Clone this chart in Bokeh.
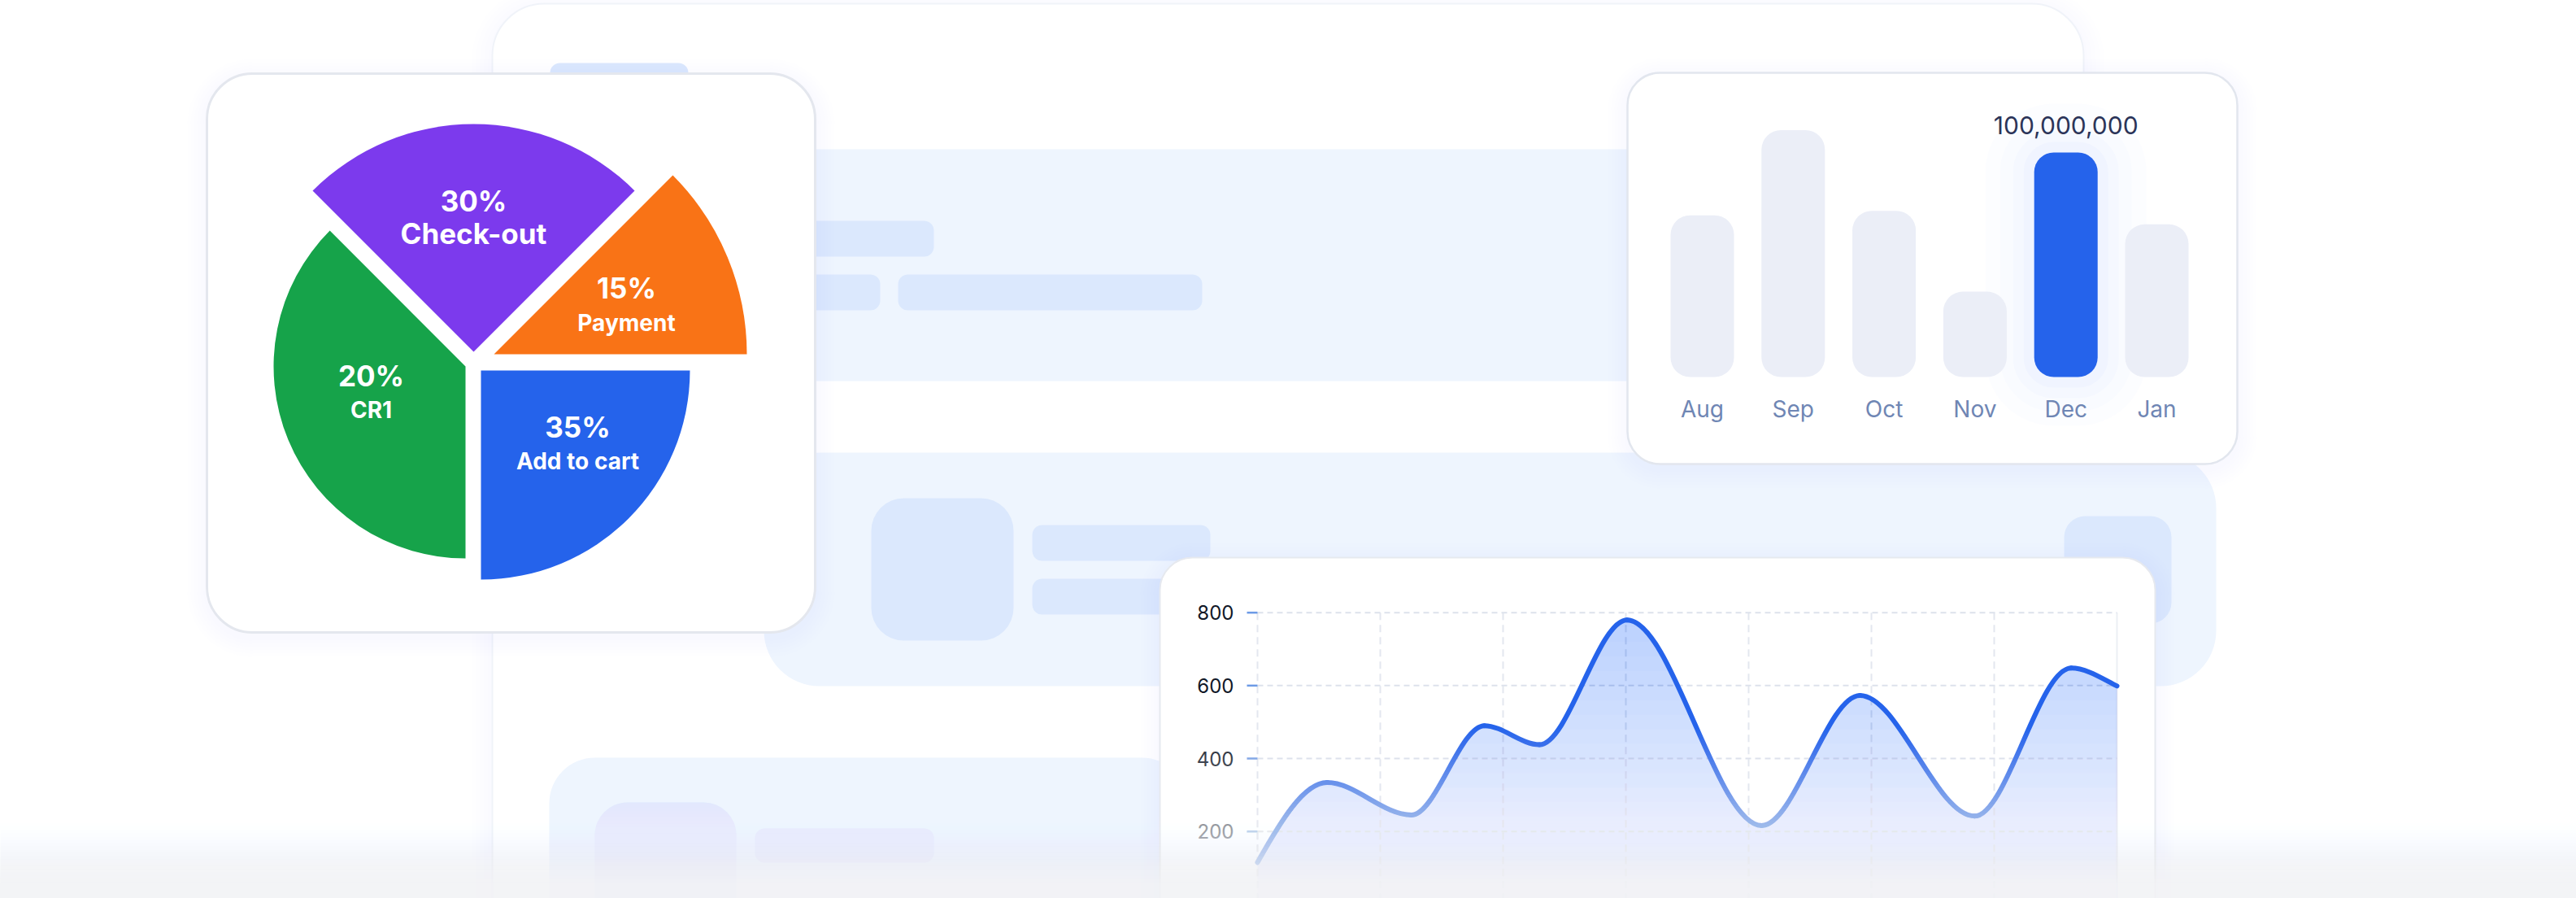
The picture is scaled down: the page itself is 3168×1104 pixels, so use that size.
import numpy as np
from bokeh.plotting import figure
from bokeh.models import Range1d
from bokeh.core.properties import value
from bokeh.embed import file_html
from bokeh.resources import INLINE

# ---------------- data ----------------
funnel_labels = ["Payment", "Check-out", "CR1", "Add to cart"]
funnel_shares = [15, 30, 20, 35]            # % shown on each slice
funnel_span_deg = [45, 90, 135, 90]         # angular extent of each slice as drawn
funnel_colors = ["#f97316", "#7c3aed", "#16a34a", "#2563eb"]

months = ["Aug", "Sep", "Oct", "Nov", "Dec", "Jan"]
revenue_m = [72, 110, 74, 38, 100, 68]      # millions
highlight_month = "Dec"

trend_x = [0.0, 0.567, 1.253, 1.848, 2.296, 3.01, 4.106, 4.907, 5.84, 6.627, 7.0]
trend_y = [115, 334, 245, 490, 438, 780, 216, 573, 242, 648, 599]
trend_ticks = [200, 400, 600, 800]
trend_slots = 7

# ---------------- canvas ----------------
W, H = 3168, 1104


def Y(v):
    return H - v


p = figure(width=W, height=H, x_range=Range1d(0, W), y_range=Range1d(0, H),
           output_backend="svg", toolbar_location=None, min_border=0,
           x_axis_location=None, y_axis_location=None)
p.grid.visible = False
p.outline_line_color = None
p.background_fill_color = "white"
p.border_fill_color = "white"

INTER = value("Inter")


def rrect(l, t, r, b, rad, fill, line=None, lw=1.0, alpha=1.0, line_alpha=1.0):
    p.quad(left=[l], right=[r], top=[Y(t)], bottom=[Y(b)], fill_color=fill, fill_alpha=alpha,
           line_color=line, line_width=lw, line_alpha=line_alpha, border_radius=rad)


def shadow(l, t, r, b, rad, color="#8aa4e8", steps=6, spread=4, a=0.012, dy=6):
    for i in range(steps, 0, -1):
        s = i * spread
        rrect(l - s, t - s + dy, r + s, b + s + dy, rad + s, color, None, 0, a)


# ---- background skeleton ----
shadow(605, 4, 2562, 1300, 64, steps=5, spread=5, a=0.007, dy=4)
rrect(605, 4, 2562, 1300, 64, "white", "#f0f3f9", 2)
rrect(676, 77, 846, 120, 12, "#dbe8fd")
rrect(960, 183, 2100, 468, 24, "#eef5fe")
rrect(960, 271, 1148, 315, 12, "#dbe8fd")
rrect(960, 337, 1082, 381, 12, "#dbe8fd")
rrect(1104, 337, 1478, 381, 12, "#dbe8fd")
rrect(939, 556, 2725, 843, 68, "#eef5fe")
rrect(1071, 612, 1246, 787, 40, "#dbe8fd")
rrect(1269, 645, 1488, 689, 12, "#dbe8fd")
rrect(1269, 711, 1460, 755, 12, "#dbe8fd")
rrect(2538, 634, 2670, 766, 26, "#dbe8fd")
rrect(675, 931, 1460, 1300, 56, "#eef5fe")
rrect(731, 986, 905, 1160, 40, "#dbe8fd")
rrect(928, 1018, 1148, 1060, 12, "#dbe8fd")

# ---- pie card ----
shadow(254, 90, 1002, 777, 56)
rrect(254, 90, 1002, 777, 56, "white", "#e4e7ee", 3)

apex = [(607, 435), (582, 432), (572, 450), (591, 455)]
radius = [311, 280, 236, 257]
starts = np.radians(np.cumsum([0] + funnel_span_deg[:-1]))
ends = starts + np.radians(funnel_span_deg)
p.wedge(x=[a[0] for a in apex], y=[Y(a[1]) for a in apex], radius=radius,
        start_angle=list(starts), end_angle=list(ends),
        fill_color=funnel_colors, line_color=None)

pct_pos = [(770, 353), (582, 246), (456, 461), (710, 524)]
name_pos = [(770, 396), (582, 286), (456, 503), (710, 566)]
name_size = ["28px", "35px", "28px", "28px"]
p.text(x=[q[0] for q in pct_pos], y=[Y(q[1]) for q in pct_pos],
       text=[f"{s}%" for s in funnel_shares], text_font=INTER, text_font_style="bold",
       text_font_size="35px", text_color="white", text_align="center", text_baseline="middle")
for (x, yy), lab, fs in zip(name_pos, funnel_labels, name_size):
    p.text(x=[x], y=[Y(yy)], text=[lab], text_font=INTER, text_font_style="bold",
           text_font_size=fs, text_color="white", text_align="center", text_baseline="middle")

# ---- bar card ----
shadow(2001, 89, 2751, 570, 40)
rrect(2001, 89, 2751, 570, 40, "white", "#e2e6ee", 2.5)

bars = p.subplot(x_source=Range1d(0, 5), y_source=Range1d(0, 100),
                 x_target=Range1d(2093, 2652), y_target=Range1d(Y(463), Y(187)))
idx = list(range(len(months)))
hi = months.index(highlight_month)
bar_w = 0.698
for lw, la in [(120, 0.012), (84, 0.016), (52, 0.02), (26, 0.024)]:
    bars.vbar(x=[hi], top=[revenue_m[hi]], bottom=[0], width=bar_w, fill_alpha=0,
              line_color="#2563eb", line_alpha=la, line_width=lw, border_radius=24)
bars.vbar(x=idx, top=revenue_m, bottom=0, width=bar_w, border_radius=24, line_color=None,
          fill_color=["#2563eb" if m == highlight_month else "#ebeef7" for m in months])
bars.text(x=idx, y=[0] * len(idx), text=months, y_offset=39, text_font=INTER,
          text_font_size="28px", text_color="#6f86b4", text_align="center", text_baseline="middle")
bars.text(x=[hi], y=[revenue_m[hi]], text=[f"{int(revenue_m[hi] * 1_000_000):,}"], y_offset=-34,
          text_font=INTER, text_font_size="30px", text_color="#2b3458",
          text_align="center", text_baseline="middle")

# ---- line card ----
shadow(1426, 685, 2650, 1300, 40)
rrect(1426, 685, 2650, 1300, 40, "white", "#e6e9ef", 2)

ln = p.subplot(x_source=Range1d(0, trend_slots), y_source=Range1d(200, 800),
               x_target=Range1d(1546, 2603), y_target=Range1d(Y(1021.7), Y(752.7)))
ln.segment(x0=list(range(trend_slots)), x1=list(range(trend_slots)), y0=[800] * trend_slots,
           y1=[-60] * trend_slots, line_color="#e3e7ef", line_width=2, line_dash="9 6")
ln.segment(x0=[trend_slots], x1=[trend_slots], y0=[800], y1=[-60], line_color="#eceff4", line_width=2)
ln.segment(x0=[0] * 4, x1=[trend_slots] * 4, y0=trend_ticks, y1=trend_ticks,
           line_color="#dde2ec", line_width=2, line_dash="7 5")
tick_len = 13 / 151
ln.segment(x0=[-tick_len] * 4, x1=[0] * 4, y0=trend_ticks, y1=trend_ticks,
           line_color="#6d9be6", line_width=2.5)
ln.text(x=[0] * 4, y=trend_ticks, text=[str(t) for t in trend_ticks], x_offset=-29,
        text_font=INTER, text_font_size="24px", text_color="#111827",
        text_align="right", text_baseline="middle")

# smooth curve: cubic Hermite with flat tangents at the turning points
tx = np.array(trend_x, float)
ty = np.array(trend_y, float)
slopes = np.zeros_like(ty)
slopes[0] = 600.0
slopes[-1] = -170.0
dx = np.diff(tx)
x0, x1 = tx[:-1], tx[1:]
y0, y1 = ty[:-1], ty[1:]
cx0 = x0 + dx / 3
cy0 = y0 + slopes[:-1] * dx / 3
cx1 = x1 - dx / 3
cy1 = y1 - slopes[1:] * dx / 3

tt = np.linspace(0, 1, 60)[:, None]
bx = ((1 - tt) ** 3 * x0 + 3 * (1 - tt) ** 2 * tt * cx0 + 3 * (1 - tt) * tt ** 2 * cx1 + tt ** 3 * x1).T.ravel()
by = ((1 - tt) ** 3 * y0 + 3 * (1 - tt) ** 2 * tt * cy0 + 3 * (1 - tt) * tt ** 2 * cy1 + tt ** 3 * y1).T.ravel()

# layered fill, denser towards the top
levels = np.linspace(0, 760, 20)
target = 0.05 + 0.20 * (levels / 780)
prev = 0.0
floor = -60
for lo, A in zip(levels, target):
    a = 1 - (1 - A) / (1 - prev)
    prev = A
    y2 = np.minimum(by, lo) if lo > 0 else np.full_like(by, floor)
    ln.varea(x=bx, y1=by, y2=y2, fill_color="#2563eb", fill_alpha=a)

ln.bezier(x0=x0, y0=y0, x1=x1, y1=y1, cx0=cx0, cy0=cy0, cx1=cx1, cy1=cy1,
          line_color="#2563eb", line_width=6, line_cap="round")

# ---- bottom fade ----
ys = np.arange(860, 1104, 4.0)
A = np.clip((ys - 890) * 0.0049, 0, 0.95)
prev = 0.0
for yk, Ak in zip(ys, A):
    if Ak <= prev:
        continue
    a = 1 - (1 - Ak) / (1 - prev)
    prev = Ak
    p.quad(left=[-10], right=[W + 10], top=[Y(yk)], bottom=[-20], fill_color="#f4f5f7",
           fill_alpha=a, line_color=None)

open("out.html", "w").write(file_html(p, INLINE))
